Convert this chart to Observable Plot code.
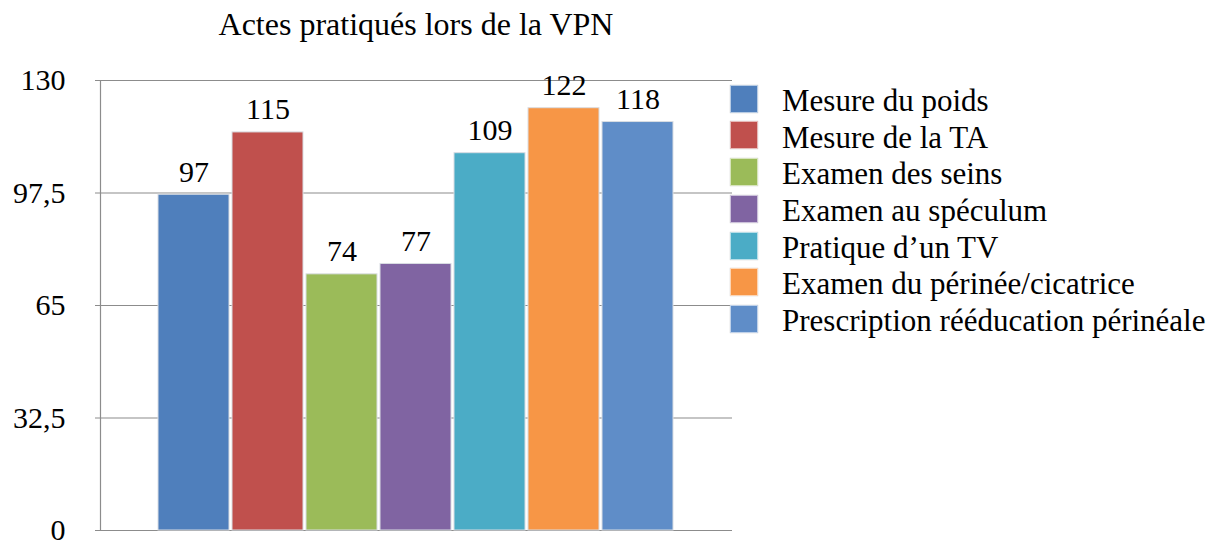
<!DOCTYPE html>
<html>
<head>
<meta charset="utf-8">
<script src="https://cdn.jsdelivr.net/npm/d3@7"></script>
<script src="https://cdn.jsdelivr.net/npm/@observablehq/plot@0.6"></script>
<style>
  html, body { margin: 0; padding: 0; background: #fff; }
  #wrap { position: relative; width: 1232px; height: 542px; font-family: "Liberation Serif", "LiberationSerif", "DejaVu Serif", serif; color: #000; }
  #title { position: absolute; left: 100px; width: 632px; top: 6px; text-align: center; font-size: 32px; white-space: nowrap; }
  #chart { position: absolute; left: 0; top: 0; }
  #legend { position: absolute; left: 730px; top: 83px; font-size: 31px; }
  .row { position: relative; height: 36.7px; line-height: 36.7px; white-space: nowrap; }
  .sw { position: absolute; left: 0; top: 1.8px; width: 26px; height: 26px; border: 0.5px solid rgba(255,255,255,0.6); box-shadow: 0 0 1px #bbb; }
  .lab { margin-left: 52px; }
</style>
</head>
<body>
<div id="wrap">
  <div id="title"></div>
  <div id="chart"></div>
  <div id="legend"></div>
</div>
<script>
const title = "Actes pratiqués lors de la VPN";
const categories = [
  "Mesure du poids",
  "Mesure de la TA",
  "Examen des seins",
  "Examen au spéculum",
  "Pratique d’un TV",
  "Examen du périnée/cicatrice",
  "Prescription rééducation périnéale"
];
const values = [97, 115, 74, 77, 109, 122, 118];
const colors = ["#4F7FBC", "#C0504D", "#9BBB59", "#8064A2", "#4BACC6", "#F79646", "#5F8DC8"];
const yTicks = [0, 32.5, 65, 97.5, 130];

const data = categories.map((c, i) => ({cat: c, value: values[i], color: colors[i]}));
const fmt = d => String(d).replace(".", ",");

document.getElementById("title").textContent = title;

const chart = Plot.plot({
  width: 1232,
  height: 542,
  marginTop: 80,
  marginBottom: 12,
  marginLeft: 100,
  marginRight: 500,
  style: {fontFamily: "'Liberation Serif', 'LiberationSerif', 'DejaVu Serif', serif", background: "transparent", color: "#000", overflow: "visible"},
  x: {domain: categories, paddingInner: 0.04, paddingOuter: 0.78, axis: null},
  y: {domain: [0, 130], ticks: yTicks, label: null},
  color: {type: "identity"},
  marks: [
    Plot.ruleY(yTicks, {stroke: "#8c8c8c", strokeWidth: 1.2}),
    Plot.frame({anchor: "left", stroke: "#8c8c8c", strokeWidth: 1.2}),
    Plot.axisY({ticks: yTicks, tickFormat: fmt, tickSize: 5, tickPadding: 30, fontSize: 30, stroke: "#8c8c8c", fill: "#000", label: null}),
    Plot.barY(data, {x: "cat", y: "value", fill: "color", stroke: "#d9dde3", strokeWidth: 1}),
    Plot.text(data, {x: "cat", y: "value", text: d => fmt(d.value), lineAnchor: "bottom", dy: -13, fontSize: 30, fill: "#000"})
  ]
});
document.getElementById("chart").appendChild(chart);

const legend = document.getElementById("legend");
categories.forEach((c, i) => {
  const row = document.createElement("div");
  row.className = "row";
  const sw = document.createElement("span");
  sw.className = "sw";
  sw.style.background = colors[i];
  const lab = document.createElement("span");
  lab.className = "lab";
  lab.textContent = c;
  row.appendChild(sw);
  row.appendChild(lab);
  legend.appendChild(row);
});
</script>
</body>
</html>
